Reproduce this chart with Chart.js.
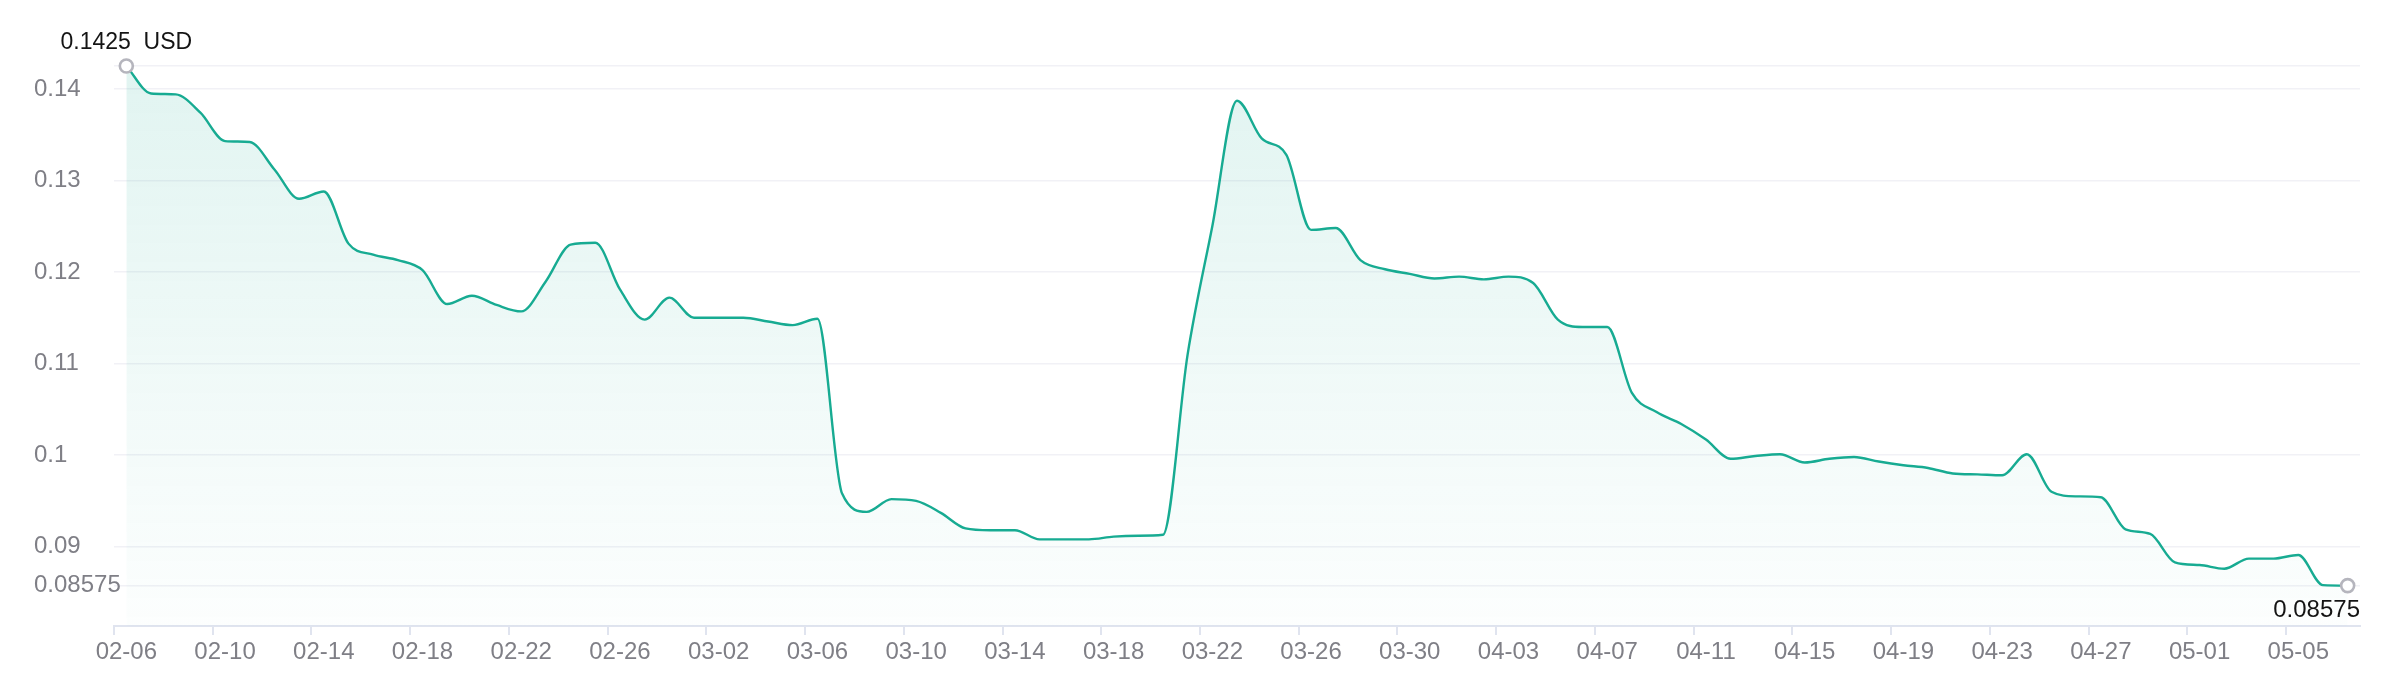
<!DOCTYPE html>
<html><head><meta charset="utf-8">
<script src="https://cdn.jsdelivr.net/npm/chart.js@4.4.1/dist/chart.umd.min.js"></script>
<style>html,body{margin:0;padding:0;background:#fff;overflow:hidden}#wrap{width:2388px;height:682px;position:relative}canvas{display:block}</style>
</head><body><div id="wrap"><canvas id="c" width="2388" height="682" style="width:2388px;height:682px"></canvas></div>
<script>
const dates = [
 '02-06','02-07','02-08','02-09','02-10','02-11','02-12','02-13','02-14','02-15','02-16','02-17','02-18','02-19','02-20','02-21','02-22','02-23','02-24','02-25','02-26','02-27','02-28',
 '03-01','03-02','03-03','03-04','03-05','03-06','03-07','03-08','03-09','03-10','03-11','03-12','03-13','03-14','03-15','03-16','03-17','03-18','03-19','03-20','03-21','03-22','03-23','03-24','03-25','03-26','03-27','03-28','03-29','03-30','03-31',
 '04-01','04-02','04-03','04-04','04-05','04-06','04-07','04-08','04-09','04-10','04-11','04-12','04-13','04-14','04-15','04-16','04-17','04-18','04-19','04-20','04-21','04-22','04-23','04-24','04-25','04-26','04-27','04-28','04-29','04-30',
 '05-01','05-02','05-03','05-04','05-05','05-06','05-07'
];
const prices = [
 0.1425,0.1395,0.1394,0.1374,0.1343,0.1342,0.1312,0.1280,0.1288,0.1231,
 0.1219,0.1213,0.1202,0.1165,0.1174,0.1164,0.1157,0.1190,0.1230,0.1232,
 0.1181,0.1148,0.1172,0.1150,0.1150,0.1150,0.1146,0.1142,0.1149,0.0958,
 0.0938,0.0952,0.0950,0.0937,0.0920,0.0918,0.0918,0.0908,0.0908,0.0908,
 0.0911,0.0912,0.0913,0.1110,0.1250,0.1387,0.1346,0.1328,0.1246,0.1248,
 0.1213,0.1203,0.1198,0.1193,0.1195,0.1192,0.1195,0.1188,0.1148,0.1140,
 0.1140,0.1068,0.1047,0.1034,0.1017,0.0996,0.0999,0.1001,0.0992,0.0996,
 0.0998,0.0993,0.0989,0.0986,0.0980,0.0979,0.0978,0.1001,0.0960,0.0955,
 0.0954,0.0919,0.0914,0.0883,0.0880,0.0876,0.0887,0.0887,0.0891,0.0858,
 0.08575
];
const yTicks = [0.08575,0.09,0.10,0.11,0.12,0.13,0.14,0.1425];
const yMin = 0.08134, yMax = 0.1425;
const unit = 'USD';
const labelStep = 4;

const FONT = '"Liberation Sans", Arial, Helvetica, sans-serif';
const LINE = '#17ab92';
const GRID = '#f1f1f6';
const AXIS = '#e0e4ef';
const TICKTXT = '#7f7f86';
const fmt = v => String(+v.toFixed(6));
const shown = i => i % labelStep === 0 && i < dates.length;

const endLabels = {
  id: 'endLabels',
  afterDatasetsDraw(chart) {
    const meta = chart.getDatasetMeta(0);
    const first = meta.data[0], last = meta.data[meta.data.length - 1];
    const ctx = chart.ctx, ca = chart.chartArea;
    ctx.save();
    ctx.fillStyle = '#141414';
    ctx.textBaseline = 'middle';
    ctx.textAlign = 'center';
    ctx.font = '23px ' + FONT;
    ctx.fillText(fmt(prices[0]) + '  ' + unit, first.x, first.y - 23);
    ctx.font = '24px ' + FONT;
    const t = fmt(prices[prices.length - 1]);
    const w = ctx.measureText(t).width;
    ctx.textAlign = 'right';
    ctx.fillText(t, Math.min(last.x + w / 2, ca.right), last.y + 25);
    ctx.restore();
  }
};

new Chart(document.getElementById('c'), {
  type: 'line',
  data: {
    labels: dates,
    datasets: [{
      data: prices,
      borderColor: LINE,
      borderWidth: 2.4,
      cubicInterpolationMode: 'monotone',
      fill: 'start',
      clip: false,
      backgroundColor: (c) => {
        const ca = c.chart.chartArea;
        if (!ca) return 'rgba(23,171,146,0.08)';
        const g = c.chart.ctx.createLinearGradient(0, ca.top, 0, ca.bottom);
        g.addColorStop(0, 'rgba(23,171,146,0.13)');
        g.addColorStop(1, 'rgba(23,171,146,0.01)');
        return g;
      },
      pointRadius: (c) => (c.dataIndex === 0 || c.dataIndex === prices.length - 1) ? 6.5 : 0,
      pointBorderWidth: 2.6,
      pointBorderColor: '#b5b5bd',
      pointBackgroundColor: '#ffffff',
      pointHoverRadius: 0
    }]
  },
  options: {
    responsive: false,
    devicePixelRatio: 1,
    animation: false,
    events: [],
    layout: { padding: { left: 34, right: 28, top: 66, bottom: 0 } },
    plugins: { legend: { display: false }, tooltip: { enabled: false } },
    scales: {
      x: {
        type: 'category',
        offset: true,
        border: { display: true, color: AXIS, width: 2 },
        grid: {
          offset: true,
          drawOnChartArea: false,
          drawTicks: true,
          tickLength: 9,
          lineWidth: 2,
          color: (c) => shown(c.index) ? AXIS : 'rgba(0,0,0,0)',
          tickColor: (c) => shown(c.index) ? AXIS : 'rgba(0,0,0,0)'
        },
        ticks: {
          autoSkip: false,
          maxRotation: 0,
          minRotation: 0,
          padding: 3,
          color: TICKTXT,
          font: { family: FONT, size: 24 },
          callback: (v, i) => shown(i) ? dates[i] : ''
        },
        afterFit: (s) => { s.height = 56; }
      },
      y: {
        type: 'linear',
        min: yMin,
        max: yMax,
        border: { display: false },
        grid: { color: GRID, lineWidth: 1.5, drawTicks: false },
        ticks: {
          mirror: true,
          crossAlign: 'near',
          padding: -80,
          color: TICKTXT,
          font: { family: FONT, size: 24 },
          callback: (v) => (Math.abs(v - yMax) < 1e-9) ? '' : fmt(v)
        },
        afterBuildTicks: (s) => { s.ticks = yTicks.map(v => ({ value: v })); },
        afterFit: (s) => { s.width = 80; }
      }
    }
  },
  plugins: [endLabels]
});
</script>
</body></html>
